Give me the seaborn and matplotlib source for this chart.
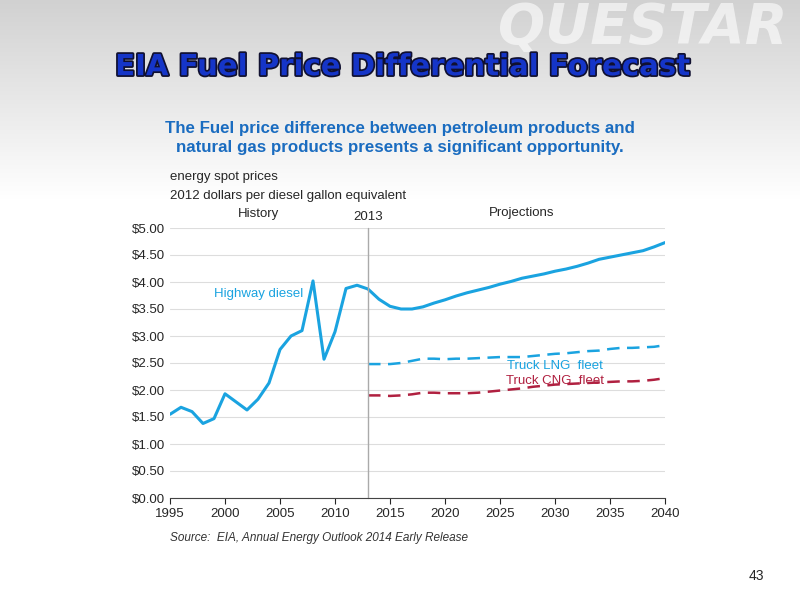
import matplotlib
matplotlib.use("Agg")
import matplotlib.pyplot as plt
import matplotlib.patheffects as pe
import seaborn as sns
import numpy as np
import pandas as pd

sns.set_style("white")
plt.rcParams['font.family'] = ['Liberation Sans', 'DejaVu Sans']

years_hist = list(range(1995, 2041))
diesel = [1.55,1.68,1.60,1.38,1.47,1.93,1.78,1.63,1.83,2.13,2.75,3.00,3.10,4.02,2.57,3.08,3.88,3.94,
          3.87,3.68,3.55,3.50,3.50,3.54,3.61,3.67,3.74,3.80,3.85,3.90,3.96,4.01,4.07,4.11,4.15,4.20,
          4.24,4.29,4.35,4.42,4.46,4.50,4.54,4.58,4.65,4.73]
years_proj = list(range(2013, 2041))
lng = [2.48,2.48,2.48,2.50,2.54,2.58,2.58,2.57,2.58,2.58,2.59,2.60,2.61,2.61,2.61,2.63,2.65,2.67,
       2.68,2.70,2.72,2.73,2.76,2.78,2.78,2.79,2.80,2.83]
cng = [1.90,1.90,1.89,1.90,1.92,1.95,1.95,1.94,1.94,1.94,1.95,1.97,1.99,2.01,2.03,2.06,2.08,2.10,
       2.11,2.12,2.13,2.14,2.15,2.16,2.16,2.17,2.19,2.22]
yticks = [0,0.5,1,1.5,2,2.5,3,3.5,4,4.5,5]

fig = plt.figure(figsize=(8,6), dpi=100)
bg = fig.add_axes([0,0,1,1], zorder=-10)
grad = np.ones((600,1))
grad[:200,0] = np.linspace(0.82, 1.0, 200)
bg.imshow(np.dstack([grad,grad,grad]), aspect='auto', extent=[0,1,0,1])
bg.axis('off')
fig.text(0.985, 0.998, "QUESTAR", fontsize=40, fontweight='bold', fontstyle='italic',
         color='white', alpha=0.6, ha='right', va='top', family='DejaVu Sans')

fig.text(0.503, 0.888, "EIA Fuel Price Differential Forecast", fontsize=21, fontweight='bold',
         color='#1535c8', ha='center', va='center', family='DejaVu Sans',
         path_effects=[pe.withStroke(linewidth=2.5, foreground='#101030')])
fig.text(0.5, 0.77, "The Fuel price difference between petroleum products and\nnatural gas products presents a significant opportunity.",
         fontsize=12.2, fontweight='bold', color='#1a6cc0', ha='center', va='center', linespacing=1.3)

ax = fig.add_axes([0.2125, 0.17, 0.6188, 0.45])
ax.set_facecolor('white')
sns.lineplot(x=years_hist, y=diesel, ax=ax, color='#1aa3e0', lw=2.2)
sns.lineplot(x=years_proj, y=lng, ax=ax, color='#1aa3e0', lw=1.8, linestyle=(0,(5,3)))
sns.lineplot(x=years_proj, y=cng, ax=ax, color='#b02040', lw=1.8, linestyle=(0,(5,3)))
ax.set_xlim(1995, 2040)
ax.set_ylim(0, 5)
ax.set_yticks(yticks)
ax.set_yticklabels([f"${v:.2f}" for v in yticks], fontsize=9.5)
ax.set_xticks(range(1995, 2041, 5))
ax.tick_params(axis='x', labelsize=9.5, length=4, direction='out', bottom=True)
ax.tick_params(axis='y', length=0)
ax.grid(axis='y', color='#dddddd', lw=0.8)
for s in ['top','right','left']:
    ax.spines[s].set_visible(False)
ax.spines['bottom'].set_color('#444444')
ax.axvline(2013, color='#aaaaaa', lw=1, ymax=1.0, clip_on=False)
ax.text(2013, 5.2, "2013", ha='center', va='center', fontsize=9.5)
ax.text(2003, 5.25, "History", ha='center', va='center', fontsize=9.5)
ax.text(2027, 5.28, "Projections", ha='center', va='center', fontsize=9.5)
ax.text(1999, 3.78, "Highway diesel", color='#1aa3e0', fontsize=9.5, ha='left', va='center')
ax.text(2030, 2.44, "Truck LNG  fleet", color='#1aa3e0', fontsize=9.5, ha='center', va='center')
ax.text(2030, 2.17, "Truck CNG  fleet", color='#b02040', fontsize=9.5, ha='center', va='center')
ax.text(1995, 5.95, "energy spot prices", fontsize=9.5, ha='left', va='center')
ax.text(1995, 5.6, "2012 dollars per diesel gallon equivalent", fontsize=9.5, ha='left', va='center')
ax.text(1995, -0.75, "Source:  EIA, Annual Energy Outlook 2014 Early Release", fontsize=8.5,
        fontstyle='italic', ha='left', va='center', color='#333333')
fig.text(0.955, 0.033, "43", fontsize=10, ha='right')
fig.savefig("out.png", dpi=100)
